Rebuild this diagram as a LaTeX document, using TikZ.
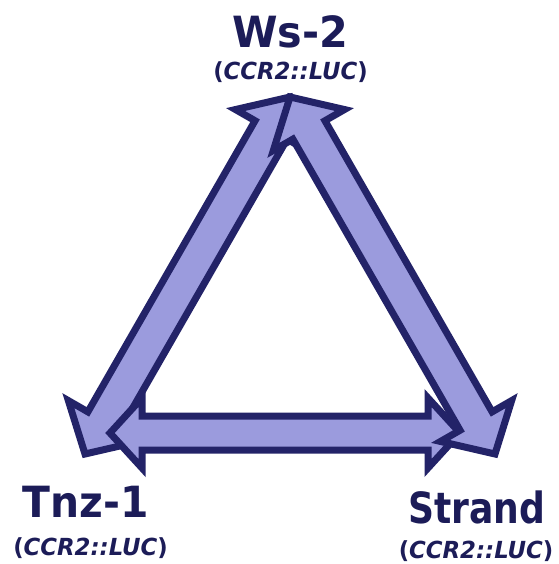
\documentclass[tikz,border=0pt]{standalone}
\usepackage{fontspec}
\usepackage{graphicx}
\setmainfont{DejaVu Sans}
\usetikzlibrary{calc}

\definecolor{arrowfill}{RGB}{155,155,221}
\definecolor{arrowline}{RGB}{35,35,104}
\definecolor{labelink}{RGB}{28,28,88}

% double-headed block arrow between two named coordinates;
% head length, head half-width and shaft half-width come from the macros below
\newcommand{\headlen}{32pt}
\newcommand{\headwid}{36pt}
\newcommand{\shaftwid}{17pt}
\newcommand{\dblarrow}[2]{%
  \draw[blockarrow] (#1)
    -- ($(#1)!\headlen!(#2)!\headwid!90:(#2)$)
    -- ($(#1)!\headlen!(#2)!\shaftwid!90:(#2)$)
    -- ($(#2)!\headlen!(#1)!\shaftwid!-90:(#1)$)
    -- ($(#2)!\headlen!(#1)!\headwid!-90:(#1)$)
    -- (#2)
    -- ($(#2)!\headlen!(#1)!\headwid!90:(#1)$)
    -- ($(#2)!\headlen!(#1)!\shaftwid!90:(#1)$)
    -- ($(#1)!\headlen!(#2)!\shaftwid!-90:(#2)$)
    -- ($(#1)!\headlen!(#2)!\headwid!-90:(#2)$)
    -- cycle;}

\begin{document}
\begin{tikzpicture}[x=1pt, y=-1pt,
  blockarrow/.style={fill=arrowfill, draw=arrowline, line width=7pt, line join=miter},
  mainlabel/.style={inner sep=0pt, anchor=base, text=labelink,
    font=\fontsize{43}{48}\selectfont\bfseries},
  sublabel/.style={inner sep=0pt, anchor=base, text=labelink,
    font=\fontsize{23.5}{26}\selectfont\bfseries}]
  \useasboundingbox (0,0) rectangle (558,564);

  % arrow end points
  \coordinate (top) at (290,97);
  \coordinate (bl) at (85,454);
  \coordinate (br) at (495,454);
  \coordinate (hl) at (110,433);
  \coordinate (hr) at (460,433);

  % the three double arrows: left side, base, right side
  \renewcommand{\headlen}{38pt}\renewcommand{\headwid}{41pt}\renewcommand{\shaftwid}{18.5pt}
  \dblarrow{bl}{top}
  \renewcommand{\headlen}{32pt}\renewcommand{\headwid}{35pt}\renewcommand{\shaftwid}{17pt}
  \dblarrow{hl}{hr}
  \renewcommand{\headlen}{38pt}\renewcommand{\headwid}{41pt}\renewcommand{\shaftwid}{18.5pt}
  \dblarrow{br}{top}

  % labels
  \node[mainlabel] (ws) at (290,48) {\scalebox{0.96}[1]{Ws-2}};
  \node[sublabel] (wssub) at (290.5,80) {\scalebox{0.97}[1]{(\textit{CCR2::LUC})}};
  \node[mainlabel] (tnz) at (86,517) {\scalebox{0.95}[1]{Tnz-1}};
  \node[sublabel] (tnzsub) at (90.5,555) {\scalebox{0.97}[1]{(\textit{CCR2::LUC})}};
  \node[mainlabel] (strand) at (477,523) {\scalebox{0.84}[1]{Strand}};
  \node[sublabel] (strandsub) at (476,558) {\scalebox{0.97}[1]{(\textit{CCR2::LUC})}};
\end{tikzpicture}
\end{document}
